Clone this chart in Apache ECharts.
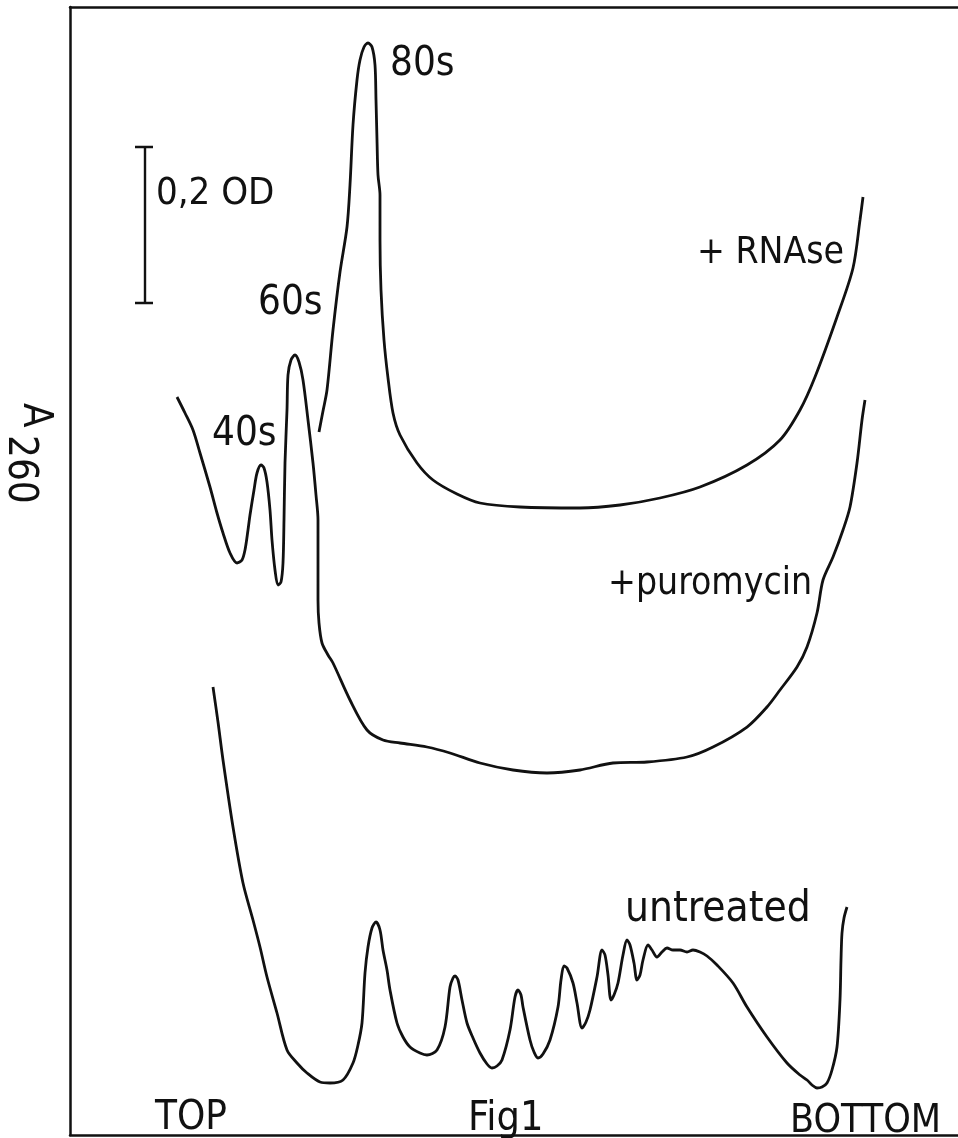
<!DOCTYPE html>
<html>
<head>
<meta charset="utf-8">
<script src="https://cdn.jsdelivr.net/npm/echarts@6/dist/echarts.min.js"></script>
<style>
html,body{margin:0;padding:0;background:#fff;}
#chart{width:958px;height:1138px;}
</style>
</head>
<body>
<div id="chart"></div>
<script>
// Gradient position (arbitrary units, TOP -> BOTTOM) and A260 (arbitrary units)
const rnaseTrace = [
  [249,703],[253,724],[257,745],[263,805],[270,863],[277,908],[280,950],[283,1010],[287,1055],[290,1075],
  [294,1088],[298,1092],[302,1088],[305,1070],[306,1035],[307,995],[308,960],[310,940],[310,895],[311,845],
  [314,795],[318,757],[323,722],[330,700],[347,672],[363,655],[387,641],[410,632],[450,628],[510,627],
  [550,630],[590,637],[630,648],[677,670],[710,695],[730,725],[745,758],[767,818],[783,867],[790,915],[793,938]
];
const puromycinTrace = [
  [107,738],[115,722],[123,705],[130,682],[140,648],[147,622],[153,602],[160,582],[167,572],[172,575],
  [175,585],[178,605],[180,620],[184,645],[187,662],[191,670],[194,667],[197,653],[200,625],[202,595],
  [205,565],[208,550],[211,553],[213,572],[214,615],[215,672],[217,725],[218,760],[221,775],[225,780],
  [229,773],[233,755],[238,715],[243,672],[246,640],[248,615],[248,575],[248,535],[249,512],[252,492],
  [258,480],[263,472],[280,435],[297,405],[313,395],[330,392],[357,388],[380,382],[410,372],[443,365],
  [477,362],[510,365],[543,372],[577,373],[617,378],[643,388],[677,408],[697,428],[710,445],[727,468],
  [737,488],[747,522],[753,555],[763,578],[773,605],[780,628],[787,672],[792,715],[795,735]
];
const untreatedTrace = [
  [143,448],[148,413],[153,375],[163,308],[173,252],[183,215],[190,188],[197,158],[207,122],[217,85],
  [227,72],[237,62],[250,53],[260,52],[273,55],[283,72],[288,90],[292,112],[295,162],[298,188],
  [302,207],[306,213],[310,205],[313,185],[317,165],[320,145],[327,112],[333,98],[340,88],[350,82],
  [357,80],[367,85],[375,108],[380,148],[383,157],[385,159],[388,155],[392,135],[397,112],[403,97],
  [410,82],[417,71],[422,67],[427,69],[432,75],[440,105],[445,138],[448,145],[451,140],[453,128],
  [460,95],[464,83],[468,77],[473,81],[480,95],[488,128],[491,155],[494,169],[497,167],[503,152],
  [507,132],[512,107],[516,113],[520,125],[527,158],[532,185],[535,180],[538,160],[541,135],[544,140],
  [548,152],[553,180],[557,195],[560,190],[564,172],[567,155],[570,160],[573,175],[578,190],[582,185],
  [587,178],[592,183],[597,187],[603,185],[610,185],[617,183],[623,185],[630,183],[637,179],[647,170],
  [663,152],[677,128],[697,98],[717,72],[730,60],[737,55],[742,50],[747,47],[752,48],[757,52],
  [762,65],[767,88],[770,135],[771,175],[772,202],[774,217],[777,228]
];
// 0.2 OD scale bar (x position, bottom value, top value)
const scaleBarX = 75;
const scaleBarLow = 832;
const scaleBarHigh = 988;
const scaleBarLabel = '0,2 OD';

const INK = '#111';
const FONT = '"DejaVu Sans Condensed", "DejaVu Sans", sans-serif';

function curve(name, data) {
  return {
    name, type: 'line', data, symbol: 'none', smooth: 0.3,
    lineStyle: { color: INK, width: 2.8 }, silent: true, z: 3
  };
}
function seg(data) {
  return { type: 'line', data, symbol: 'none', lineStyle: { color: INK, width: 2.4 }, silent: true };
}
function txt(text, x, y, size, extra) {
  return Object.assign({
    type: 'text', x, y,
    style: { text, font: size + 'px ' + FONT, fill: INK, textAlign: 'left', textVerticalAlign: 'middle' }
  }, extra || {});
}
const frameLine = { show: true, lineStyle: { color: INK, width: 2.5 } };
const hidden = { axisTick: { show: false }, axisLabel: { show: false }, splitLine: { show: false } };

const chart = echarts.init(document.getElementById('chart'), null, { renderer: 'canvas' });
chart.setOption({
  backgroundColor: '#fff',
  animation: false,
  grid: { left: 70, top: 7, right: 0, bottom: 3, show: false },
  xAxis: [
    Object.assign({ type: 'value', min: 0, max: 888, position: 'bottom', axisLine: frameLine }, hidden),
    Object.assign({ type: 'value', min: 0, max: 888, position: 'top', axisLine: frameLine }, hidden)
  ],
  yAxis: Object.assign({ type: 'value', min: 0, max: 1128, position: 'left', axisLine: frameLine }, hidden),
  series: [
    curve('+ RNAse', rnaseTrace),
    curve('+puromycin', puromycinTrace),
    curve('untreated', untreatedTrace),
    seg([[scaleBarX, scaleBarLow], [scaleBarX, scaleBarHigh]]),
    seg([[scaleBarX - 10, scaleBarHigh], [scaleBarX + 8, scaleBarHigh]]),
    seg([[scaleBarX - 10, scaleBarLow], [scaleBarX + 8, scaleBarLow]])
  ],
  graphic: [
    txt('80s', 390, 65, 40),
    txt(scaleBarLabel, 156, 194, 38),
    txt('60s', 258, 304, 40),
    txt('40s', 212, 435, 40),
    txt('+ RNAse', 697, 253, 37),
    txt('+puromycin', 608, 584, 37),
    txt('untreated', 625, 910, 42),
    txt('TOP', 155, 1119, 40),
    txt('Fig1', 468, 1119, 41),
    txt('BOTTOM', 790, 1122, 39),
    txt('A', 34, 403, 40, { rotation: -Math.PI / 2 }),
    txt('260', 19, 435, 40, { rotation: -Math.PI / 2 })
  ]
});
</script>
</body>
</html>
